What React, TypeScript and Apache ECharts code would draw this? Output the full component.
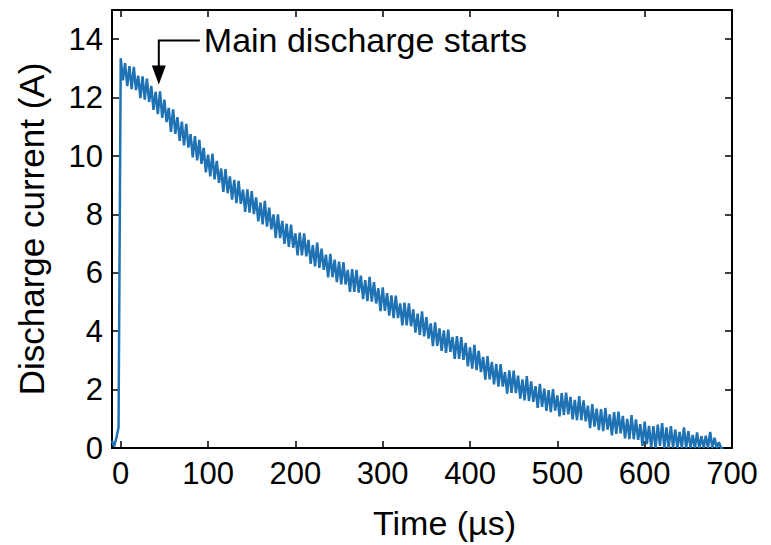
import React, { useEffect, useRef } from "react";
import * as echarts from "echarts";

// Sampling grid of the recorded trace (µs)
const timeStartUs = -10;
const timeStepUs = 2.5;

// Discharge current (A), one value per 2.5 µs starting at -10 µs
const currentA = [
  0.25, 0.05, 0.35, 0.7,
  13.35, 12.59, 13.18, 12.39,
  13.08, 12.29, 13.05, 12.26,
  12.75, 11.98, 12.73, 11.93,
  12.65, 11.85, 12.4, 11.58,
  12.2, 11.43, 12.21, 11.31,
  11.93, 11.16, 11.65, 10.83,
  11.6, 10.76, 11.33, 10.52,
  11.18, 10.36, 11.1, 10.29,
  10.75, 9.95, 10.68, 9.85,
  10.55, 9.73, 10.28, 9.44,
  10.05, 9.3, 10.08, 9.2,
  9.83, 9.08, 9.57, 8.77,
  9.55, 8.73, 9.3, 8.51,
  9.18, 8.39, 9.15, 8.36,
  8.85, 8.09, 8.86, 8.06,
  8.8, 8.01, 8.58, 7.76,
  8.4, 7.66, 8.46, 7.58,
  8.23, 7.49, 8.0, 7.2,
  8.0, 7.19, 7.78, 6.99,
  7.68, 6.89, 7.65, 6.86,
  7.35, 6.6, 7.38, 6.6,
  7.35, 6.56, 7.13, 6.31,
  6.95, 6.22, 7.03, 6.17,
  6.83, 6.1, 6.62, 5.84,
  6.65, 5.85, 6.45, 5.68,
  6.38, 5.6, 6.37, 5.6,
  6.1, 5.35, 6.13, 5.35,
  6.1, 5.32, 5.9, 5.1,
  5.75, 5.03, 5.86, 5.01,
  5.68, 4.95, 5.47, 4.69,
  5.5, 4.7, 5.3, 4.53,
  5.23, 4.45, 5.22, 4.45,
  4.95, 4.2, 4.98, 4.2,
  4.95, 4.17, 4.75, 3.95,
  4.6, 3.87, 4.68, 3.82,
  4.48, 3.75, 4.27, 3.49,
  4.3, 3.5, 4.1, 3.33,
  4.03, 3.26, 4.05, 3.29,
  3.8, 3.05, 3.83, 3.05,
  3.8, 3.02, 3.6, 2.8,
  3.45, 2.72, 3.53, 2.67,
  3.33, 2.6, 3.12, 2.34,
  3.15, 2.35, 2.95, 2.18,
  2.88, 2.1, 2.87, 2.1,
  2.6, 1.86, 2.66, 1.89,
  2.65, 1.88, 2.48, 1.69,
  2.35, 1.63, 2.46, 1.61,
  2.28, 1.58, 2.12, 1.37,
  2.2, 1.41, 2.03, 1.27,
  1.98, 1.23, 2.02, 1.28,
  1.8, 1.08, 1.88, 1.13,
  1.9, 1.15, 1.75, 0.98,
  1.65, 0.95, 1.78, 0.95,
  1.63, 0.91, 1.45, 0.68,
  1.5, 0.73, 1.35, 0.61,
  1.33, 0.58, 1.37, 0.63,
  1.15, 0.43, 1.23, 0.48,
  1.25, 0.5, 1.1, 0.33,
  1.0, 0.3, 1.13, 0.3,
  0.98, 0.28, 0.82, 0.07,
  0.9, 0.13, 0.76, 0.02,
  0.75, 0.0, 0.8, 0.07,
  0.85, 0.0, 0.71, 0.0,
  0.75, 0.01, 0.63, 0.0,
  0.55, 0.0, 0.71, 0.0,
  0.58, 0.0, 0.45, 0.0,
  0.53, 0.0, 0.4, 0.0,
  0.42, 0.0, 0.55, 0.0,
  0.35, 0.0, 0.2, 0.0,
  0.0,
];

const xRange = [-10, 700];
const yRange = [0, 15];
const yTickStep = 2;

const xAxisTitle = "Time (µs)";
const yAxisTitle = "Discharge current (A)";
const annotationText = "Main discharge starts";
const annotationTip = [43.6, 12.45]; // µs, A

const FONT = "'Liberation Sans', Arial, Helvetica, sans-serif";
const LINE_COLOR = "#1f72b4";

export default function App() {
  const ref = useRef<HTMLDivElement>(null);

  useEffect(() => {
    if (!ref.current) return;
    const chart = echarts.init(ref.current, undefined, { renderer: "svg" });

    const seriesData = currentA.map((v, i) => [timeStartUs + i * timeStepUs, v]);

    const axisLine = { show: true, onZero: false, lineStyle: { color: "#000", width: 2 } };
    const axisTick = { show: true, inside: true, length: 7, lineStyle: { color: "#000", width: 1.5 } };

    chart.setOption({
      animation: false,
      backgroundColor: "#fff",
      grid: { left: 112, right: 39, top: 10, bottom: 96 },
      xAxis: [
        {
          type: "value",
          position: "bottom",
          min: xRange[0],
          max: xRange[1],
          splitNumber: 7,
          axisLine,
          axisTick,
          splitLine: { show: false },
          axisLabel: {
            fontSize: 31,
            color: "#000",
            fontFamily: FONT,
            margin: 10,
            showMinLabel: false,
            formatter: (v: number) => (v < 0 ? "" : String(v)),
          },
          name: xAxisTitle,
          nameLocation: "middle",
          nameGap: 58,
          nameTextStyle: { fontSize: 34, color: "#000", fontFamily: FONT, padding: [0, 0, 0, 45] },
        },
        {
          type: "value",
          position: "top",
          min: xRange[0],
          max: xRange[1],
          splitNumber: 7,
          axisLine,
          axisTick,
          splitLine: { show: false },
          axisLabel: { show: false },
        },
      ],
      yAxis: [
        {
          type: "value",
          position: "left",
          min: yRange[0],
          max: yRange[1],
          interval: yTickStep,
          axisLine,
          axisTick,
          splitLine: { show: false },
          axisLabel: {
            fontSize: 31,
            color: "#000",
            fontFamily: FONT,
            margin: 9,
            showMaxLabel: false,
            formatter: (v: number) => (v > 14 ? "" : String(v)),
          },
          name: yAxisTitle,
          nameLocation: "middle",
          nameGap: 63,
          nameTextStyle: { fontSize: 35, color: "#000", fontFamily: FONT },
        },
        {
          type: "value",
          position: "right",
          min: yRange[0],
          max: yRange[1],
          interval: yTickStep,
          axisLine,
          axisTick,
          splitLine: { show: false },
          axisLabel: { show: false },
        },
      ],
      series: [
        {
          type: "line",
          xAxisIndex: 0,
          yAxisIndex: 0,
          data: seriesData,
          showSymbol: false,
          symbol: "none",
          lineStyle: { color: LINE_COLOR, width: 2.5 },
          itemStyle: { color: LINE_COLOR },
          z: 1,
        },
      ],
    });

    const tip = chart.convertToPixel({ xAxisIndex: 0, yAxisIndex: 0 }, annotationTip) as number[];
    const tx = tip[0];
    const ty = tip[1];
    chart.setOption({
      graphic: [
        {
          type: "polyline",
          shape: { points: [[tx + 41, ty - 44], [tx, ty - 44], [tx, ty - 17]] },
          style: { stroke: "#000", lineWidth: 2, fill: "none" },
          z: 10,
        },
        {
          type: "polygon",
          shape: { points: [[tx - 7, ty - 19], [tx + 7, ty - 19], [tx, ty]] },
          style: { fill: "#000" },
          z: 10,
        },
        {
          type: "text",
          x: tx + 45,
          y: ty - 44,
          style: {
            text: annotationText,
            fontSize: 34,
            fontFamily: FONT,
            fill: "#000",
            align: "left",
            verticalAlign: "middle",
          },
          z: 10,
        },
      ],
    });

    return () => chart.dispose();
  }, []);

  return (
    <div
      ref={ref}
      style={{ position: "absolute", left: 0, top: 0, width: 771, height: 545, background: "#fff" }}
    />
  );
}
